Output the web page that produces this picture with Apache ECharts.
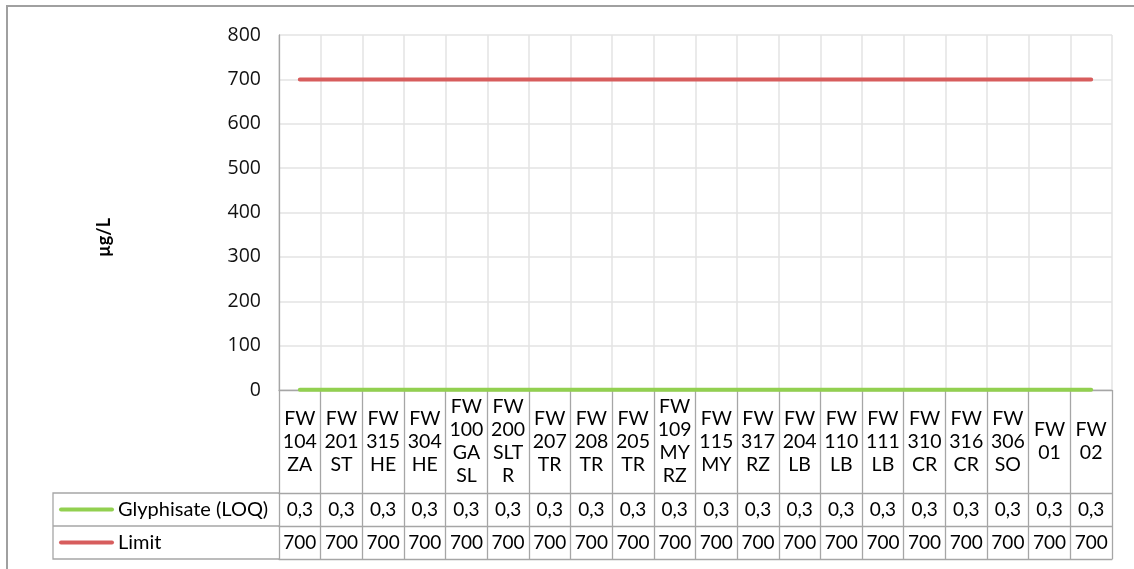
<!DOCTYPE html>
<html><head><meta charset="utf-8">
<script src="https://cdn.jsdelivr.net/npm/echarts@6/dist/echarts.min.js"></script>
<style>html,body{margin:0;padding:0;background:#fff}#c{width:1134px;height:569px}</style>
</head><body><div id="c"></div>
<script>
// ---- data ----
const categories = ['FW\n104\nZA','FW\n201\nST','FW\n315\nHE','FW\n304\nHE','FW\n100\nGA\nSL','FW\n200\nSLT\nR','FW\n207\nTR','FW\n208\nTR','FW\n205\nTR','FW\n109\nMY\nRZ','FW\n115\nMY','FW\n317\nRZ','FW\n204\nLB','FW\n110\nLB','FW\n111\nLB','FW\n310\nCR','FW\n316\nCR','FW\n306\nSO','FW\n01','FW\n02'];
const glyphisate = [0.3,0.3,0.3,0.3,0.3,0.3,0.3,0.3,0.3,0.3,0.3,0.3,0.3,0.3,0.3,0.3,0.3,0.3,0.3,0.3];
const limit = [700,700,700,700,700,700,700,700,700,700,700,700,700,700,700,700,700,700,700,700];
const seriesNames = ['Glyphisate (LOQ)', 'Limit'];
const yMin = 0, yMax = 800, yInterval = 100;
const yAxisTitle = 'µg/L';

// ---- layout / style ----
const W = 1134, H = 569;
const GL = 279, GR = 1112, GT = 35, GB = 390;
const ROW1 = 103, ROW = 33;
const TABLE_LEFT = 53;
const green = '#92d050', red = '#d75d5d';
const border = '#a6a6a6', grid = '#e3e3e3';
const tableFont = 'Lato, "Noto Sans", sans-serif';
const fmt = v => String(v).replace('.', ',');

function valueAxis(offset, values, showLabel) {
  return {
    type: 'category', gridIndex: 0, position: 'bottom', offset: offset,
    data: categories, boundaryGap: true,
    axisLine: { show: true, onZero: false, lineStyle: { color: border, width: 1.3 } },
    axisTick: { show: false }, splitLine: { show: false },
    axisLabel: {
      show: showLabel, interval: 0, margin: ROW / 2, verticalAlign: 'middle',
      fontFamily: tableFont, fontSize: 19, color: '#000',
      formatter: (v, i) => values ? fmt(values[i]) : ''
    }
  };
}

const chart = echarts.init(document.getElementById('c'), null, { renderer: 'canvas' });
const tableRowY1 = GB + ROW1 + ROW / 2;
const tableRowY2 = GB + ROW1 + ROW + ROW / 2;
chart.setOption({
  animation: false,
  backgroundColor: '#fff',
  grid: { left: GL, right: W - GR, top: GT, bottom: H - GB, containLabel: false, outerBoundsMode: 'none' },
  xAxis: [
    {
      type: 'category', gridIndex: 0, position: 'bottom', data: categories, boundaryGap: true,
      axisLine: { show: true, lineStyle: { color: border, width: 1.3 } },
      axisTick: { show: true, interval: 0, length: ROW1 + 2 * ROW, lineStyle: { color: border, width: 1.3 } },
      splitLine: { show: true, interval: 0, lineStyle: { color: grid, width: 1.5 } },
      axisLabel: {
        interval: 0, margin: ROW1 / 2, verticalAlign: 'middle', align: 'center',
        fontFamily: tableFont, fontSize: 19.5, lineHeight: 23, color: '#000'
      }
    },
    valueAxis(ROW1, glyphisate, true),
    valueAxis(ROW1 + ROW, limit, true),
    valueAxis(ROW1 + 2 * ROW, null, false)
  ],
  yAxis: {
    type: 'value', min: yMin, max: yMax, interval: yInterval,
    name: yAxisTitle, nameLocation: 'middle', nameRotate: 90, nameGap: 166,
    nameTextStyle: { fontFamily: 'Lato, sans-serif', fontWeight: 'bold', fontSize: 18, color: '#000', padding: [0, 50, 0, 0] },
    axisLine: { show: true, lineStyle: { color: border, width: 1.3 } },
    axisTick: { show: false },
    splitLine: { show: true, lineStyle: { color: grid, width: 1.5 } },
    axisLabel: { margin: 18, fontFamily: '"Open Sans", "Noto Sans", sans-serif', fontSize: 19.5, color: '#111' }
  },
  series: [
    { name: seriesNames[0], type: 'line', data: glyphisate, symbol: 'none', z: 5,
      lineStyle: { color: green, width: 4, cap: 'round' } },
    { name: seriesNames[1], type: 'line', data: limit, symbol: 'none', z: 5,
      lineStyle: { color: red, width: 4, cap: 'round' } }
  ],
  graphic: [
    { type: 'polyline', shape: { points: [[7, H + 5], [7, 6], [W + 5, 6]] }, style: { stroke: '#a0a0a0', lineWidth: 2, fill: null } },
    { type: 'polyline', shape: { points: [[GL, GB + ROW1], [TABLE_LEFT, GB + ROW1], [TABLE_LEFT, GB + ROW1 + 2 * ROW], [GL, GB + ROW1 + 2 * ROW]] }, style: { stroke: border, lineWidth: 1.3, fill: null } },
    { type: 'line', shape: { x1: TABLE_LEFT, y1: GB + ROW1 + ROW, x2: GL, y2: GB + ROW1 + ROW }, style: { stroke: border, lineWidth: 1.3 } },
    { type: 'line', shape: { x1: 61, y1: tableRowY1, x2: 112, y2: tableRowY1 }, style: { stroke: green, lineWidth: 4, lineCap: 'round' } },
    { type: 'line', shape: { x1: 61, y1: tableRowY2, x2: 112, y2: tableRowY2 }, style: { stroke: red, lineWidth: 4, lineCap: 'round' } },
    { type: 'text', x: 118, y: tableRowY1, style: { text: seriesNames[0], font: '20px ' + tableFont, fill: '#000', verticalAlign: 'middle' } },
    { type: 'text', x: 118, y: tableRowY2, style: { text: seriesNames[1], font: '20px ' + tableFont, fill: '#000', verticalAlign: 'middle' } }
  ]
});
</script>
</body></html>
